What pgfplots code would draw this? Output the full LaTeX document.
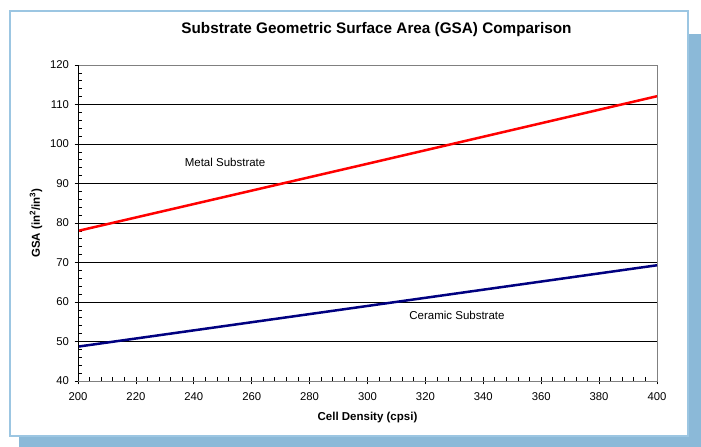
\documentclass[border=0pt]{standalone}
\usepackage{fontspec}
\setmainfont{Liberation Sans}
\usepackage{pgfplots}
\pgfplotsset{compat=1.18}
\definecolor{frameblue}{HTML}{9CC6E2}
\definecolor{shadowblue}{HTML}{8BB9D8}
\definecolor{edgegray}{HTML}{808080}
\definecolor{metalred}{HTML}{FF0000}
\definecolor{ceramicblue}{HTML}{000080}

\begin{document}
\begin{tikzpicture}
\useasboundingbox (0,0) rectangle (701bp,447bp);
% shadow and frame
\fill[shadowblue] (19bp,0) rectangle (701bp,413bp);
\draw[frameblue, fill=white, line width=2bp] (10bp,11bp) rectangle (688bp,436bp);
\begin{axis}[
  at={(78bp,66bp)}, anchor=south west,
  width=579bp, height=316bp, scale only axis,
  xmin=200, xmax=400, ymin=40, ymax=120,
  xtick distance=20, ytick distance=10,
  minor x tick num=4, minor y tick num=4,
  tick pos=left, tick align=center,
  major tick length=7bp, minor tick length=4bp,
  minor x tick style={yshift=2bp}, minor y tick style={xshift=2bp},
  tick style={black, line width=0.8bp},
  ymajorgrids, grid style={black, line width=0.7bp},
  axis line style={edgegray, line width=0.8bp},
  /pgf/number format/assume math mode=true,
  /pgf/number format/1000 sep={},
  ticklabel style={font=\fontsize{11.3bp}{13bp}\selectfont},
  xticklabel style={yshift=-5bp},
  yticklabel style={xshift=-2bp},
  title={Substrate Geometric Surface Area (GSA) Comparison},
  title style={font=\fontsize{15.3bp}{17bp}\selectfont\bfseries,
    at={(axis description cs:0.5155,1.092)}, anchor=center},
  xlabel={Cell Density (cpsi)},
  xlabel style={font=\fontsize{11.5bp}{13bp}\selectfont\bfseries,
    at={(axis description cs:0.5,-0.117)}, anchor=center},
  ylabel={GSA (in\textsuperscript{2}/in\textsuperscript{3})},
  ylabel style={font=\fontsize{11.5bp}{13bp}\selectfont\bfseries,
    at={(axis description cs:-0.0725,0.5)}, anchor=center},
]
\addplot[metalred, line width=2.5bp, no marks] coordinates {(200,78.0) (300,95.0) (400,112.1)};
\addplot[ceramicblue, line width=2.5bp, no marks] coordinates {(200,48.7) (300,59.0) (400,69.3)};
\draw[black, line width=0.8bp] (rel axis cs:0,1) -- (rel axis cs:0,0) -- (rel axis cs:1,0);
\node[font=\fontsize{11.5bp}{13bp}\selectfont] at (axis cs:250.8,95.4) {Metal Substrate};
\node[font=\fontsize{11.5bp}{13bp}\selectfont] at (axis cs:330.9,56.5) {Ceramic Substrate};
\end{axis}
\end{tikzpicture}
\end{document}
